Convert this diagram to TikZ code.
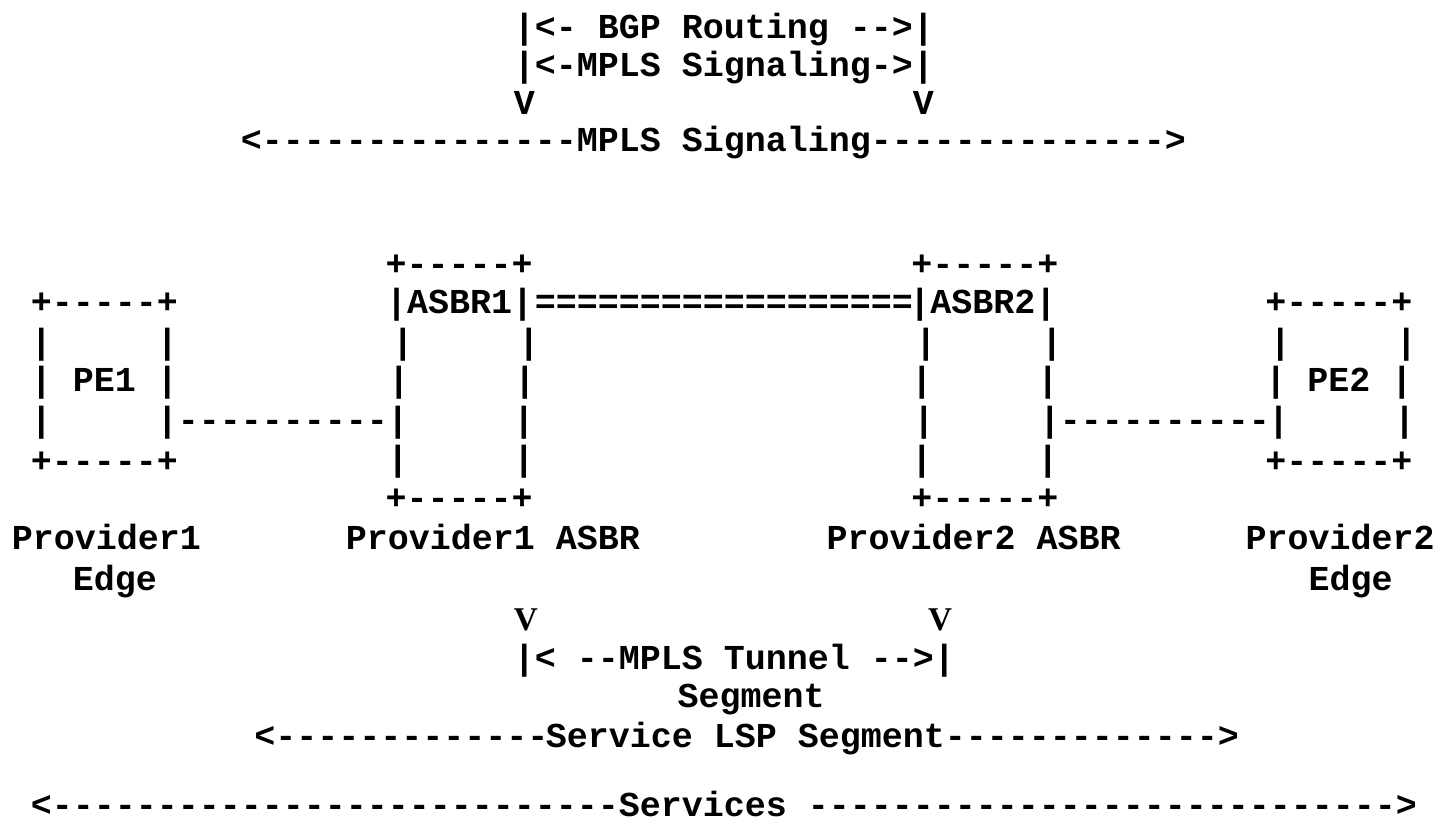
\documentclass[tikz,border=0pt]{standalone}
\usepackage{fontspec}
\setmainfont{Liberation Serif}
\setmonofont{Liberation Mono}

\tikzset{
  ascii/.style={font=\ttfamily\bfseries\fontsize{17.5pt}{20pt}\selectfont,
    anchor=base west,inner sep=0pt,outer sep=0pt,yshift=-1pt},
  serifv/.style={font=\rmfamily\bfseries\fontsize{16.6pt}{19pt}\selectfont,
    anchor=base,inner sep=0pt,outer sep=0pt}
}

\begin{document}
\begin{tikzpicture}[x=10.5pt,y=-0.5pt]

\useasboundingbox (-0.4667,0) rectangle (68.0571,823);

\node[ascii] (bgp) at (24,37) {|<-~BGP~Routing~-->|};
\node[ascii] (sigtop) at (24,75) {|<-MPLS~Signaling->|};
\node[ascii] (vtop) at (24,113) {V~~~~~~~~~~~~~~~~~~V};

\node[ascii] (sigl) at (11,150) {<---------------};
\node[ascii] (siglbl) at (27,150) {MPLS~Signaling};
\node[ascii] (sigr) at (41,150) {-------------->};


\node[ascii] (a1top) at (17.9,274) {+-----+};
\node[ascii] (a2top) at (42.93,274) {+-----+};

\node[ascii] (pe1top) at (1,312) {+-----+};
\node[ascii] (a1lbl) at (17.92,312) {|ASBR1|};
\node[ascii] (eq) at (25,312) {==================};
\node[ascii] (a2lbl) at (42.84,312) {|ASBR2|};
\node[ascii] (pe2top) at (59.79,312) {+-----+};

\node[ascii] (pe1a) at (1,352) {|~~~~~|};
\node[ascii] (a1a) at (18.22,352) {|~~~~~|};
\node[ascii] (a2a) at (43.12,352) {|~~~~~|};
\node[ascii] (pe2a) at (60,352) {|~~~~~|};

\node[ascii] (pe1lbl) at (1,390) {|~PE1~|};
\node[ascii] (a1b) at (18.03,390) {|~~~~~|};
\node[ascii] (a2b) at (42.93,390) {|~~~~~|};
\node[ascii] (pe2lbl) at (59.79,390) {|~PE2~|};

\node[ascii] (pe1b) at (1,429) {|~~~~~|};
\node[ascii] (link1) at (8,429) {----------};
\node[ascii] (a1c) at (17.98,429) {|~~~~~|};
\node[ascii] (a2c) at (43.03,429) {|~~~~~|};
\node[ascii] (link2) at (50,429) {----------};
\node[ascii] (pe2b) at (59.92,429) {|~~~~~|};

\node[ascii] (pe1bot) at (1,470) {+-----+};
\node[ascii] (a1d) at (17.98,468) {|~~~~~|};
\node[ascii] (a2d) at (42.93,468) {|~~~~~|};
\node[ascii] (pe2bot) at (59.79,470) {+-----+};

\node[ascii] (a1bot) at (17.9,507) {+-----+};
\node[ascii] (a2bot) at (42.93,507) {+-----+};


\node[ascii] (prov1) at (0.1,547) {Provider1};
\node[ascii] (prov1asbr) at (16,547) {Provider1~ASBR};
\node[ascii] (prov2asbr) at (38.9,547) {Provider2~ASBR};
\node[ascii] (prov2) at (58.85,547) {Provider2};
\node[ascii] (edge1) at (3,588) {Edge};
\node[ascii] (edge2) at (61.85,588) {Edge};

\node[serifv] (vl) at (24.58,630) {V};
\node[serifv] (vr) at (44.3,630) {V};

\node[ascii] (tunnel) at (24,667) {|<~--MPLS~Tunnel~-->|};
\node[ascii] (seg) at (31.8,705) {Segment};

\node[ascii] (lspl) at (11.65,745) {<-------------};
\node[ascii] (lsplbl) at (25.53,745) {Service~LSP~Segment};
\node[ascii] (lspr) at (44.53,745) {------------->};

\node[ascii] (svcl) at (1,814) {<---------------------------};
\node[ascii] (svclbl) at (29,814) {Services};
\node[ascii] (svcr) at (38,814) {---------------------------->};

\end{tikzpicture}
\end{document}
